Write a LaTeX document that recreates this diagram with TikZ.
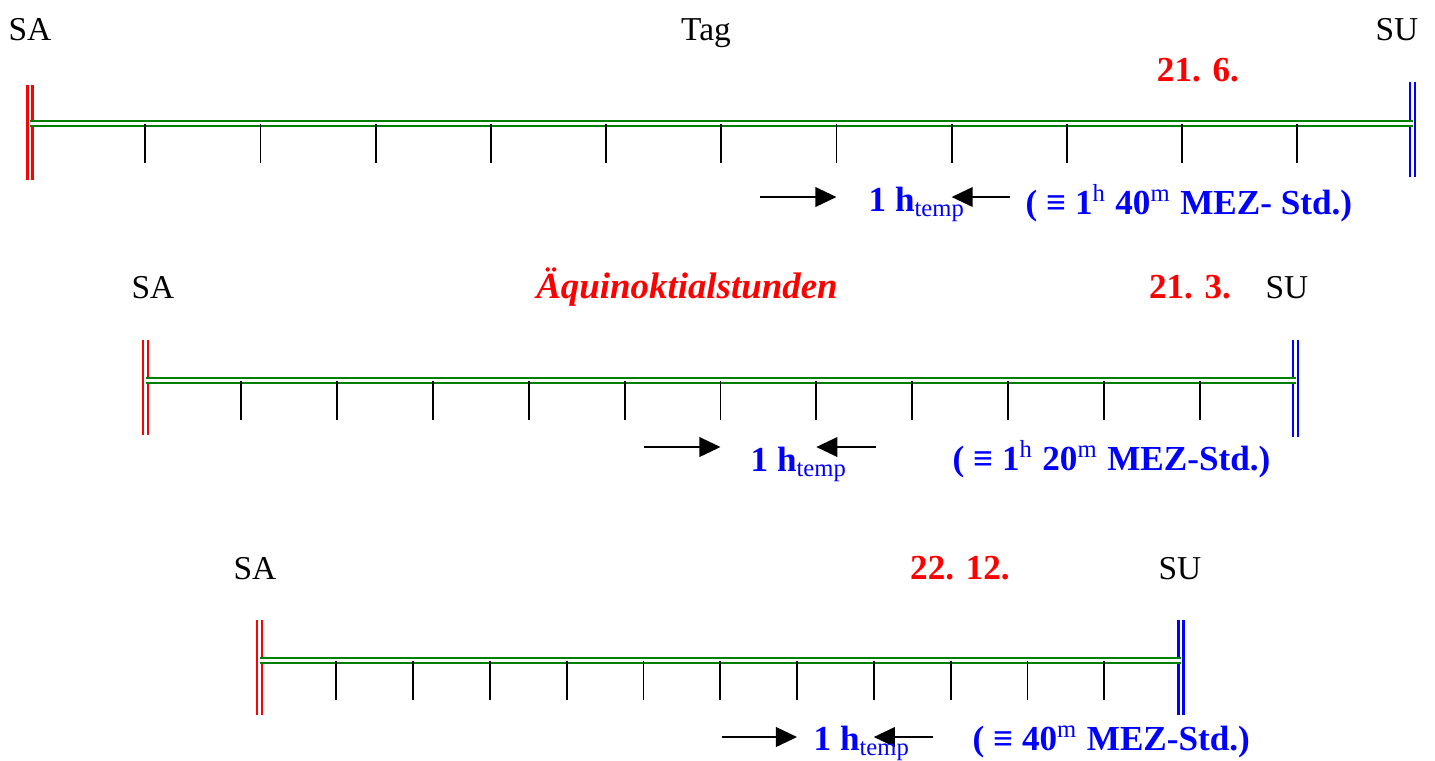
\documentclass[tikz,border=0pt]{standalone}
\usepackage{fontspec}
\setmainfont{Liberation Serif}
\usetikzlibrary{arrows.meta,calc,positioning}

\begin{document}
\begin{tikzpicture}
    [x=0.1mm, y=-0.1mm,
    day/.style={green!50!black, line width=0.57pt, double=white, double distance=0.85pt},
    sunrise/.style={red, line width=0.72pt, double=white, double distance=0.72pt},
    sunset/.style={blue, line width=0.72pt, double=white, double distance=0.72pt},
    hour/.style={line width=0.5pt},
    pointer/.style={-{Triangle[length=6pt,width=5.6pt]}, line width=0.5pt},
    lbl/.style={font=\fontsize{9.5}{11}\selectfont, inner sep=0pt, anchor=base},
    date/.style={font=\fontsize{10}{12}\selectfont\bfseries, text=red, inner sep=0pt, anchor=base},
    temp/.style={font=\fontsize{10}{12}\selectfont\bfseries, text=blue, inner sep=0pt, anchor=base west}]
    \useasboundingbox (0,0) rectangle (1435,760);

        %% Day 21.6.
    \node[lbl] (SA1) at (30,40) {SA};
    \node[lbl] (tag) at (706,40) {Tag};
    \node[lbl] (SU1) at (1397,40) {SU};
    \node[date] (D1) at (1198,81) {21. 6.};
        \coordinate (A1) at (30,123.5);
        \coordinate (B1) at (1412.5,123.5);
        \draw[sunrise] (A1) ++(0,-38.5) -- ++(0,95);
        \draw[sunset] (B1) ++(0,-41.5) -- ++(0,95);
        \draw[day] (A1) -- (B1);
        \foreach \i in {1,...,11} {
            \coordinate (H1-\i) at ($(A1)!\i/12!(B1)$);
            \draw[hour] (H1-\i) -- ++(0,39);
        }
        \coordinate (P1) at (760,197);
        \coordinate (Q1) at (1010,197);
        \draw[pointer] (P1) -- (H1-7 |- P1);
        \draw[pointer] (Q1) -- (H1-8 |- Q1);
    \node[temp] (T1) at (868,211) {1 h\textsubscript{\mdseries temp}};
    \node[temp] (M1) at (1025,214) {( ≡ 1\textsuperscript{\mdseries h} 40\textsuperscript{\mdseries m} MEZ- Std.)};

        %% Day 21.3.
    \node[lbl] (SA2) at (153,298) {SA};
    \node[date, font=\fontsize{10.5}{12}\selectfont\bfseries\itshape] (aeq) at (687,298) {Äquinoktialstunden};
    \node[date] (D2) at (1190,298) {21. 3.};
    \node[lbl] (SU2) at (1287,298) {SU};
        \coordinate (A2) at (145.5,380.5);
        \coordinate (B2) at (1295.5,380.5);
        \draw[sunrise] (A2) ++(0,-40.5) -- ++(0,95);
        \draw[sunset] (B2) ++(0,-40.5) -- ++(0,97);
        \draw[day] (A2) -- (B2);
        \foreach \i in {1,...,11} {
            \coordinate (H2-\i) at ($(A2)!\i/12!(B2)$);
            \draw[hour] (H2-\i) -- ++(0,39);
        }
        \coordinate (P2) at (644,447);
        \coordinate (Q2) at (876,447);
        \draw[pointer] (P2) -- (H2-6 |- P2);
        \draw[pointer] (Q2) -- (H2-7 |- Q2);
    \node[temp] (T2) at (750,471) {1 h\textsubscript{\mdseries temp}};
    \node[temp] (M2) at (952,470) {( ≡ 1\textsuperscript{\mdseries h} 20\textsuperscript{\mdseries m} MEZ-Std.)};

        %% Day 22.12.
    \node[lbl] (SA3) at (255,579) {SA};
    \node[date] (D3) at (960,579) {22. 12.};
    \node[lbl] (SU3) at (1180,579) {SU};
        \coordinate (A3) at (259.5,660.5);
        \coordinate (B3) at (1181,660.5);
        \draw[sunrise] (A3) ++(0,-40.5) -- ++(0,95);
        \draw[sunset] (B3) ++(0,-40.5) -- ++(0,95);
        \draw[day] (A3) -- (B3);
        \foreach \i in {1,...,11} {
            \coordinate (H3-\i) at ($(A3)!\i/12!(B3)$);
            \draw[hour] (H3-\i) -- ++(0,39);
        }
        \coordinate (P3) at (722,737);
        \coordinate (Q3) at (933,737);
        \draw[pointer] (P3) -- (H3-7 |- P3);
        \draw[pointer] (Q3) -- (H3-8 |- Q3);
    \node[temp] (T3) at (813,750) {1 h\textsubscript{\mdseries temp}};
    \node[temp] (M3) at (972,750) {( ≡ 40\textsuperscript{\mdseries m} MEZ-Std.)};
\end{tikzpicture}
\end{document}
